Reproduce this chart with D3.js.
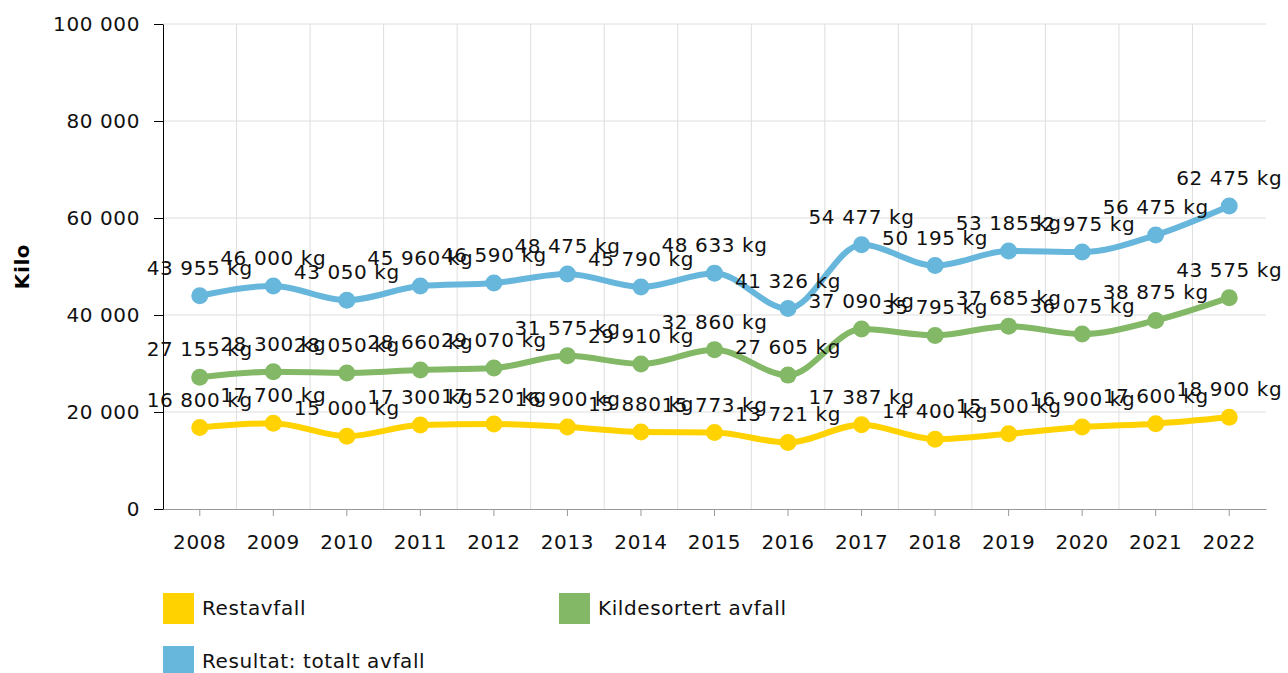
<!DOCTYPE html>
<html>
<head>
<meta charset="utf-8">
<script src="https://cdn.jsdelivr.net/npm/d3@7"></script>
<style>
  body { margin: 0; background: #fff; }
  text { font-family: Verdana, "DejaVu Sans", sans-serif; letter-spacing: 0.6px; }
</style>
</head>
<body>
<script>
// data
let years = [2008, 2009, 2010, 2011, 2012, 2013, 2014, 2015, 2016, 2017, 2018, 2019, 2020, 2021, 2022]
let restavfall = [16800, 17700, 15000, 17300, 17520, 16900, 15880, 15773, 13721, 17387, 14400, 15500, 16900, 17600, 18900]
let kildesortert = [27155, 28300, 28050, 28660, 29070, 31575, 29910, 32860, 27605, 37090, 35795, 37685, 36075, 38875, 43575]
let totalt = [43955, 46000, 43050, 45960, 46590, 48475, 45790, 48633, 41326, 54477, 50195, 53185, 52975, 56475, 62475]
let seriesNames = ["Restavfall", "Kildesortert avfall", "Resultat: totalt avfall"]
let seriesColors = ["#ffd200", "#82b866", "#67b6dc"]
let yTicks = [0, 20000, 40000, 60000, 80000, 100000]

let series = [restavfall, kildesortert, totalt]

let width = 1288, height = 673
let plotLeft = 163, plotRight = 1266, plotTop = 24, plotBottom = 509
let fs = 20

let nb = d3.formatLocale({ decimal: ",", thousands: " ", grouping: [3], currency: ["", ""] })
let fmt = nb.format(",d")

let svg = d3.select("body").append("svg")
    .attr("width", width).attr("height", height)

let xScale = d3.scaleBand().domain(years).range([plotLeft, plotRight]).padding(0)
let yScale = d3.scaleLinear().domain([0, 100000]).range([plotBottom, plotTop])
let cx = d => xScale(d) + xScale.bandwidth() / 2

// horizontal grid
svg.append("g").selectAll("line").data(yTicks.filter(d => d > 0)).enter().append("line")
    .attr("x1", plotLeft).attr("x2", plotRight)
    .attr("y1", d => yScale(d)).attr("y2", d => yScale(d))
    .attr("stroke", "#dedede").attr("stroke-width", 1)

// vertical grid at band boundaries
svg.append("g").selectAll("line").data(years.slice(1)).enter().append("line")
    .attr("x1", d => xScale(d)).attr("x2", d => xScale(d))
    .attr("y1", plotTop).attr("y2", plotBottom)
    .attr("stroke", "#dedede").attr("stroke-width", 1)

// x axis
let xAxis = svg.append("g")
    .attr("transform", "translate(0," + plotBottom + ")")
    .call(d3.axisBottom(xScale).tickSize(7).tickPadding(19).tickSizeOuter(0))
xAxis.select(".domain").attr("stroke", "#999")
xAxis.selectAll(".tick line").attr("stroke", "#999")
xAxis.selectAll("text").attr("font-size", fs).attr("fill", "#111")
    .attr("font-family", "Verdana, 'DejaVu Sans', sans-serif")

// y axis
let yAxis = svg.append("g")
    .attr("transform", "translate(" + plotLeft + ",0)")
    .call(d3.axisLeft(yScale).tickValues(yTicks).tickFormat(fmt).tickSize(9).tickPadding(14).tickSizeOuter(0))
yAxis.select(".domain").attr("stroke", "#000")
yAxis.selectAll(".tick line").attr("stroke", "#000")
yAxis.selectAll("text").attr("font-size", fs).attr("fill", "#111")
    .attr("font-family", "Verdana, 'DejaVu Sans', sans-serif")

svg.append("text")
    .attr("transform", "translate(29," + ((plotTop + plotBottom) / 2) + ") rotate(-90)")
    .attr("text-anchor", "middle")
    .attr("font-size", fs).attr("font-weight", "bold")
    .text("Kilo")

// lines + points
let valueline = d3.line()
    .x((d, i) => cx(years[i]))
    .y(d => yScale(d))
    .curve(d3.curveMonotoneX)

series.forEach(function (s, k) {
    svg.append("path")
        .attr("d", valueline(s))
        .attr("fill", "none")
        .attr("stroke", seriesColors[k])
        .attr("stroke-width", 6)
    svg.append("g").selectAll("circle").data(s).enter().append("circle")
        .attr("cx", (d, i) => cx(years[i]))
        .attr("cy", d => yScale(d))
        .attr("r", 8.5)
        .attr("fill", seriesColors[k])
})

// value labels on top
series.forEach(function (s, k) {
    svg.append("g").selectAll("text").data(s).enter().append("text")
        .attr("x", (d, i) => cx(years[i]))
        .attr("y", d => yScale(d) - 21)
        .attr("text-anchor", "middle")
        .attr("font-size", fs).attr("fill", "#111")
        .text(d => fmt(d) + " kg")
})

// legend
let legendPos = [[163, 593], [559, 593], [163, 646]]
seriesNames.forEach(function (name, k) {
    let g = svg.append("g").attr("transform", "translate(" + legendPos[k][0] + "," + legendPos[k][1] + ")")
    g.append("rect").attr("width", 31).attr("height", 31).attr("fill", seriesColors[k])
    g.append("text").attr("x", 39).attr("y", 22)
        .attr("font-size", fs).attr("fill", "#111")
        .text(name)
})
</script>
</body>
</html>
